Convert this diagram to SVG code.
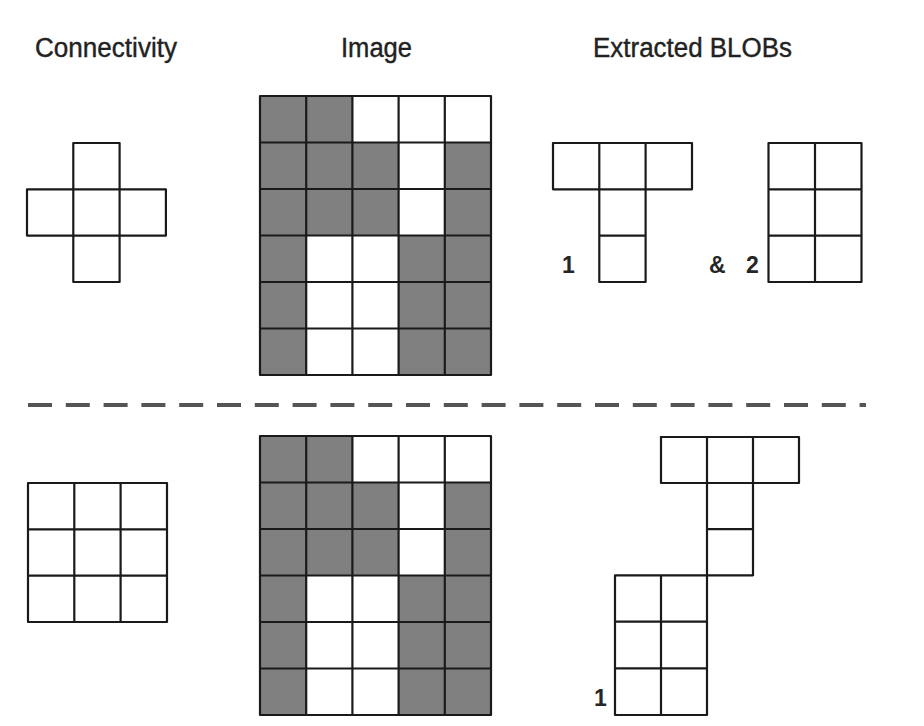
<svg xmlns="http://www.w3.org/2000/svg" xmlns:xlink="http://www.w3.org/1999/xlink" width="924" height="726" viewBox="0 0 924 726">
<style>
.title{font-family:"Liberation Sans",Arial,sans-serif;font-size:27px;fill:#222;stroke:#222;stroke-width:0.4;}
.lbl{font-family:"Liberation Sans",Arial,sans-serif;font-size:23px;font-weight:bold;fill:#262626;}
.grid{fill:none;stroke:#1a1a1a;stroke-width:2.2;stroke-linejoin:round;stroke-linecap:square;}
.fillw{fill:#ffffff;}
.fillg{fill:#808080;}
.dash{stroke:#555;stroke-width:4;stroke-dasharray:24 13.8;fill:none;}
</style>
<defs>
<g id="imgGrid">
<rect class="fillw" x="0" y="0" width="231" height="279"/>
<rect class="fillg" x="0" y="0" width="46.2" height="279"/>
<rect class="fillg" x="46.2" y="0" width="46.2" height="139.5"/>
<rect class="fillg" x="92.4" y="46.5" width="46.2" height="93"/>
<rect class="fillg" x="138.6" y="139.5" width="46.2" height="139.5"/>
<rect class="fillg" x="184.8" y="46.5" width="46.2" height="232.5"/>
<path class="grid" d="M0 0H231V279H0Z M46.2 0V279 M92.4 0V279 M138.6 0V279 M184.8 0V279 M0 46.5H231 M0 93H231 M0 139.5H231 M0 186H231 M0 232.5H231"/>
</g>
</defs>
<rect x="0" y="0" width="924" height="726" fill="#ffffff"/>

<g id="titles">
<text class="title" x="35" y="57" textLength="142" lengthAdjust="spacingAndGlyphs">Connectivity</text>
<text class="title" x="341" y="57" textLength="71" lengthAdjust="spacingAndGlyphs">Image</text>
<text class="title" x="593" y="57" textLength="199" lengthAdjust="spacingAndGlyphs">Extracted BLOBs</text>
</g>

<g id="connectivity-4">
<path class="grid" d="M73.3 143H119.6V189.3H165.9V235.6H119.6V282H73.3V235.6H27V189.3H73.3Z M73.3 189.3H119.6 M73.3 235.6H119.6 M73.3 189.3V235.6 M119.6 189.3V235.6"/>
</g>

<g id="image-top">
<use xlink:href="#imgGrid" transform="translate(260,96)"/>
</g>

<g id="blob-top-1">
<path class="grid" d="M553 143H692V189.3H645.6V282H599.3V189.3H553Z M599.3 143V189.3 M645.6 143V189.3 M599.3 189.3H645.6 M599.3 235.6H645.6"/>
<text class="lbl" x="562" y="273">1</text>
</g>

<g id="blob-top-2">
<path class="grid" d="M768.5 143H861.5V282H768.5Z M815 143V282 M768.5 189.3H861.5 M768.5 235.6H861.5"/>
<text class="lbl" x="709" y="273">&amp;</text>
<text class="lbl" x="746" y="273">2</text>
</g>

<g id="divider">
<line class="dash" x1="28" y1="405" x2="866" y2="405"/>
</g>

<g id="connectivity-8">
<path class="grid" d="M28 483H167V622H28Z M74.3 483V622 M120.6 483V622 M28 529.3H167 M28 575.6H167"/>
</g>

<g id="image-bottom">
<use xlink:href="#imgGrid" transform="translate(260,436)"/>
</g>

<g id="blob-bottom-1">
<path class="grid" d="M661 437H799V483H753V575.3H707V715H615V575.3H707 M661 437V483H707 M707 437V483 M753 437V483 M707 483H753 M707 483V575.3 M707 529.2H753 M661 575.3V715 M615 621.7H707 M615 668.3H707"/>
<text class="lbl" x="594" y="706">1</text>
</g>
</svg>
